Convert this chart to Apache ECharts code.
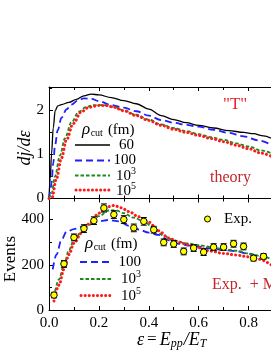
<!DOCTYPE html>
<html><head><meta charset="utf-8">
<script src="https://cdn.jsdelivr.net/npm/echarts@6/dist/echarts.min.js"></script>
<style>html,body{margin:0;padding:0;background:#fff}#c{width:271px;height:351px}</style>
</head><body><div id="c"></div>
<script>
// ---- Data ----
const xTicks = [0.0, 0.2, 0.4, 0.6, 0.8];
const topYTicks = [0, 1, 2];
const botYTicks = [0, 200, 400];

// Top panel: dj/dε vs ε
const top60Eps = [0,0.005,0.01,0.017,0.025,0.035,0.05,0.08,0.11,0.14,0.17,0.2,0.25,0.3,0.35,0.4,0.45,0.5,0.55,0.6,0.66,0.72,0.78,0.82,0.86,0.89];
const top60Val = [0,0.45,1.0,1.6,2.0,2.1,2.13,2.18,2.25,2.33,2.37,2.35,2.29,2.22,2.15,2.03,1.88,1.79,1.72,1.66,1.6,1.54,1.5,1.47,1.42,1.37];
const top100Eps = [0,0.005,0.01,0.017,0.024,0.035,0.05,0.07,0.09,0.115,0.14,0.17,0.2,0.25,0.3,0.35,0.4,0.45,0.5,0.55,0.6,0.66,0.72,0.78,0.84,0.89];
const top100Val = [0,0.15,0.35,0.8,1.2,1.55,1.83,2.02,2.13,2.22,2.27,2.26,2.21,2.12,2.06,1.98,1.88,1.78,1.72,1.67,1.63,1.56,1.49,1.41,1.32,1.22];
const top1e3Eps = [0,0.01,0.024,0.044,0.064,0.09,0.12,0.15,0.18,0.22,0.26,0.3,0.35,0.4,0.45,0.5,0.55,0.6,0.65,0.7,0.75,0.8,0.85,0.89];
const top1e3Val = [0,0.1,0.5,0.98,1.37,1.73,1.97,2.08,2.12,2.12,2.08,2.0,1.9,1.79,1.68,1.6,1.53,1.46,1.39,1.33,1.25,1.18,1.09,1.03];
const top1e5Eps = [0,0.012,0.03,0.05,0.07,0.097,0.13,0.16,0.2,0.23,0.26,0.3,0.35,0.4,0.45,0.5,0.55,0.6,0.65,0.7,0.75,0.8,0.85,0.89];
const top1e5Val = [0,0.02,0.45,0.92,1.33,1.7,1.97,2.07,2.11,2.11,2.07,1.99,1.88,1.77,1.66,1.57,1.5,1.43,1.36,1.29,1.21,1.13,1.03,0.96];

// Bottom panel: Events vs ε
const bot100Eps = [0.015,0.03,0.05,0.07,0.1,0.15,0.2,0.24,0.28,0.32,0.36,0.4,0.44,0.48,0.52,0.56,0.6,0.65,0.7,0.75,0.8,0.85,0.89];
const bot100Val = [180,245,310,345,358,375,392,398,392,372,356,342,332,308,293,285,280,272,265,260,248,235,225];
const bot1e3Eps = [0.02,0.04,0.06,0.08,0.1,0.13,0.16,0.2,0.24,0.27,0.3,0.34,0.38,0.42,0.46,0.5,0.55,0.6,0.65,0.7,0.75,0.8,0.85,0.89];
const bot1e3Val = [60,135,200,265,310,345,375,415,440,440,428,408,392,362,328,308,295,287,278,270,262,250,238,225];
const bot1e5Eps = [0.02,0.04,0.06,0.08,0.1,0.13,0.16,0.2,0.23,0.26,0.29,0.32,0.36,0.4,0.44,0.48,0.52,0.56,0.6,0.65,0.7,0.75,0.8,0.84,0.89];
const bot1e5Val = [40,110,180,245,295,340,380,428,455,462,452,435,412,388,350,318,300,288,275,260,250,243,235,225,200];

const expEps = [0.02,0.06,0.10,0.14,0.18,0.22,0.26,0.30,0.34,0.38,0.42,0.46,0.50,0.54,0.58,0.62,0.66,0.70,0.74,0.78,0.82,0.86];
const expVal = [66,204,321,360,395,451,422,400,363,392,355,299,292,259,274,256,278,278,293,281,229,237];
const expErr = [12,15,15,17,17,18,17,17,17,17,15,15,15,15,15,15,15,15,15,15,12,12];

// ---- Chart ----
const pair = (xs, ys) => xs.map((x, i) => [x, ys[i]]);
const SERIF = '"Liberation Serif","DejaVu Serif",serif';
const C_BLUE = '#1f1fff', C_GREEN = '#1c8a1c', C_RED = '#ff1a1a';

const chart = echarts.init(document.getElementById('c'), null, {renderer: 'canvas'});

const GL = 49, GW = 225, T0 = 87, H0 = 111.5, H1 = 111.5;
const XMAX = 0.89;

function xAx(grid, pos, labels) {
  return {
    type: 'value', gridIndex: grid, position: pos, min: 0, max: XMAX, interval: 0.2,
    axisLine: {show: true, onZero: false, lineStyle: {color: '#000', width: 1}},
    axisTick: {show: true, inside: true, length: 4, lineStyle: {color: '#000'}},
    minorTick: {show: true, splitNumber: 2, length: 3, lineStyle: {color: '#000'}},
    splitLine: {show: false},
    axisLabel: {show: labels, showMaxLabel: false, margin: 6, color: '#000', fontFamily: SERIF, fontSize: 15,
      formatter: v => xTicks.some(t => Math.abs(t - v) < 1e-6) ? v.toFixed(1) : ''}
  };
}
function yAx(grid, max, interval, ticks) {
  return {
    type: 'value', gridIndex: grid, min: 0, max: max, interval: interval,
    axisLine: {show: true, lineStyle: {color: '#000', width: 1}},
    axisTick: {show: true, inside: true, length: 4, lineStyle: {color: '#000'}},
    minorTick: {show: true, splitNumber: 2, length: 3, lineStyle: {color: '#000'}},
    splitLine: {show: false},
    axisLabel: {showMaxLabel: false, margin: 5, color: '#000', fontFamily: SERIF, fontSize: 15,
      formatter: v => ticks.includes(v) ? String(v) : ''}
  };
}
function line(xi, yi, data, color, width, dash, cap, z) {
  return {type: 'line', xAxisIndex: xi, yAxisIndex: yi, data: data, symbol: 'none', smooth: 0.35,
    smoothMonotone: 'x', z: z, silent: true, animation: false,
    lineStyle: {color: color, width: width, type: dash, cap: cap || 'butt'}};
}

// text helpers
const mctx = document.createElement('canvas').getContext('2d');
function tw(t, font) { mctx.font = font; return mctx.measureText(t).width; }
function seq(parts, x, y, color) {
  const out = []; let cx = x;
  parts.forEach(p => {
    const font = (p.italic ? 'italic ' : '') + p.size + 'px ' + SERIF;
    out.push({type: 'text', x: cx, y: y + (p.dy || 0), z: 100,
      style: {text: p.t, font: font, fill: color || '#000', textVerticalAlign: 'middle'}});
    cx += tw(p.t, font) + (p.gap || 0);
  });
  return out;
}
function seqRight(parts, xr, y, color) {
  let w = 0;
  parts.forEach(p => { w += tw(p.t, (p.italic ? 'italic ' : '') + p.size + 'px ' + SERIF) + (p.gap || 0); });
  return seq(parts, xr - w, y, color);
}
function legLine(x1, x2, y, color, width, dash, cap) {
  return {type: 'line', z: 100, shape: {x1: x1, y1: y, x2: x2, y2: y},
    style: {stroke: color, lineWidth: width, lineDash: dash, lineCap: cap || 'butt'}};
}
function rho(x, y) {
  return seq([{t: 'ρ', size: 17, italic: true, gap: 0.5}, {t: 'cut', size: 10, dy: 3, gap: 5}, {t: '(fm)', size: 15}], x, y);
}
function pow10(e, xr, y) {
  return seqRight([{t: '10', size: 15}, {t: e, size: 10, dy: -5}], xr, y);
}

const graphics = [].concat(
  // axis names
  [{type: 'text', x: 25, y: 148, rotation: Math.PI / 2, z: 100,
    style: {text: 'dj/dε', font: 'italic 18px ' + SERIF, fill: '#000', textAlign: 'center', textVerticalAlign: 'middle'}},
   {type: 'text', x: 11, y: 259, rotation: Math.PI / 2, z: 100,
    style: {text: 'Events', font: '17px ' + SERIF, fill: '#000', textAlign: 'center', textVerticalAlign: 'middle'}}],
  seq([{t: 'ε', size: 18, italic: true, gap: 3}, {t: '=', size: 17, gap: 3}, {t: 'E', size: 18, italic: true},
       {t: 'pp', size: 12, italic: true, dy: 4, gap: 1}, {t: '/', size: 18, italic: true}, {t: 'E', size: 18, italic: true},
       {t: 'T', size: 12, italic: true, dy: 4}], 137, 340),
  // annotations
  [{type: 'text', x: 223, y: 105, z: 100, style: {text: '"T"', font: '17px ' + SERIF, fill: '#e8232a', textVerticalAlign: 'middle'}},
   {type: 'text', x: 210, y: 178, z: 100, style: {text: 'theory', font: '16px ' + SERIF, fill: '#c1272d', textVerticalAlign: 'middle'}},
   {type: 'text', x: 212, y: 285, z: 100, style: {text: 'Exp.  + M', font: '16px ' + SERIF, fill: '#c1272d', textVerticalAlign: 'middle'}}],
  // top legend
  rho(82, 130),
  [legLine(75, 110, 145, '#000', 1.3, null), legLine(75, 110, 160.5, C_BLUE, 1.8, [7, 4]),
   legLine(75, 110, 175.5, C_GREEN, 1.8, [3.5, 2]), legLine(76, 110, 190, C_RED, 3, [0.1, 4], 'round')],
  seqRight([{t: '60', size: 15}], 134, 145),
  seqRight([{t: '100', size: 15}], 136, 160.5),
  pow10('3', 136, 176),
  pow10('5', 136, 191),
  // bottom legend
  rho(85, 244),
  [legLine(80, 113, 262, C_BLUE, 1.8, [7, 4]), legLine(80, 113, 279, C_GREEN, 1.8, [3.5, 2]),
   legLine(81, 113, 295.5, C_RED, 3, [0.1, 4], 'round')],
  seqRight([{t: '100', size: 15}], 141, 262),
  pow10('3', 141, 279.5),
  pow10('5', 141, 296),
  // Exp legend
  [{type: 'circle', z: 100, shape: {cx: 207.5, cy: 219, r: 3}, style: {fill: '#ffff00', stroke: '#000', lineWidth: 1}},
   {type: 'text', x: 224, y: 219, z: 100, style: {text: 'Exp.', font: '15px ' + SERIF, fill: '#000', textVerticalAlign: 'middle'}}]
);

const option = {
  animation: false,
  backgroundColor: '#fff',
  grid: [
    {left: GL, top: T0, width: GW, height: H0},
    {left: GL, top: T0 + H0, width: GW, height: H1}
  ],
  xAxis: [xAx(0, 'bottom', false), xAx(0, 'top', false), xAx(1, 'bottom', true), xAx(1, 'top', false)],
  yAxis: [yAx(0, 2.53, 1, topYTicks), yAx(1, 493, 200, botYTicks)],
  series: [
    line(0, 0, pair(top60Eps, top60Val), '#000', 1.3, 'solid', 'butt', 2),
    line(0, 0, pair(top100Eps, top100Val), C_BLUE, 1.8, [7, 4], 'butt', 3),
    line(0, 0, pair(top1e3Eps, top1e3Val), C_GREEN, 1.8, [3.5, 2], 'butt', 4),
    line(0, 0, pair(top1e5Eps, top1e5Val), C_RED, 3, [0.1, 4], 'round', 5),
    line(2, 1, pair(bot100Eps, bot100Val), C_BLUE, 1.8, [7, 4], 'butt', 3),
    line(2, 1, pair(bot1e3Eps, bot1e3Val), C_GREEN, 1.8, [3.5, 2], 'butt', 4),
    line(2, 1, pair(bot1e5Eps, bot1e5Val), C_RED, 3, [0.1, 4], 'round', 5),
    {
      type: 'custom', xAxisIndex: 2, yAxisIndex: 1, z: 8, silent: true,
      data: expEps.map((x, i) => [x, expVal[i] - expErr[i], expVal[i] + expErr[i]]),
      renderItem: function (params, api) {
        const lo = api.coord([api.value(0), api.value(1)]);
        const hi = api.coord([api.value(0), api.value(2)]);
        const w = 3;
        const st = {stroke: '#000', lineWidth: 1};
        return {type: 'group', children: [
          {type: 'line', shape: {x1: lo[0], y1: lo[1], x2: hi[0], y2: hi[1]}, style: st},
          {type: 'line', shape: {x1: lo[0] - w, y1: lo[1], x2: lo[0] + w, y2: lo[1]}, style: st},
          {type: 'line', shape: {x1: hi[0] - w, y1: hi[1], x2: hi[0] + w, y2: hi[1]}, style: st}
        ]};
      }
    },
    {
      type: 'scatter', xAxisIndex: 2, yAxisIndex: 1, z: 9, silent: true,
      data: pair(expEps, expVal), symbol: 'circle', symbolSize: 6.5,
      itemStyle: {color: '#ffff00', borderColor: '#000', borderWidth: 1, opacity: 1}
    }
  ],
  graphic: graphics
};
chart.setOption(option);
</script>
</body></html>
